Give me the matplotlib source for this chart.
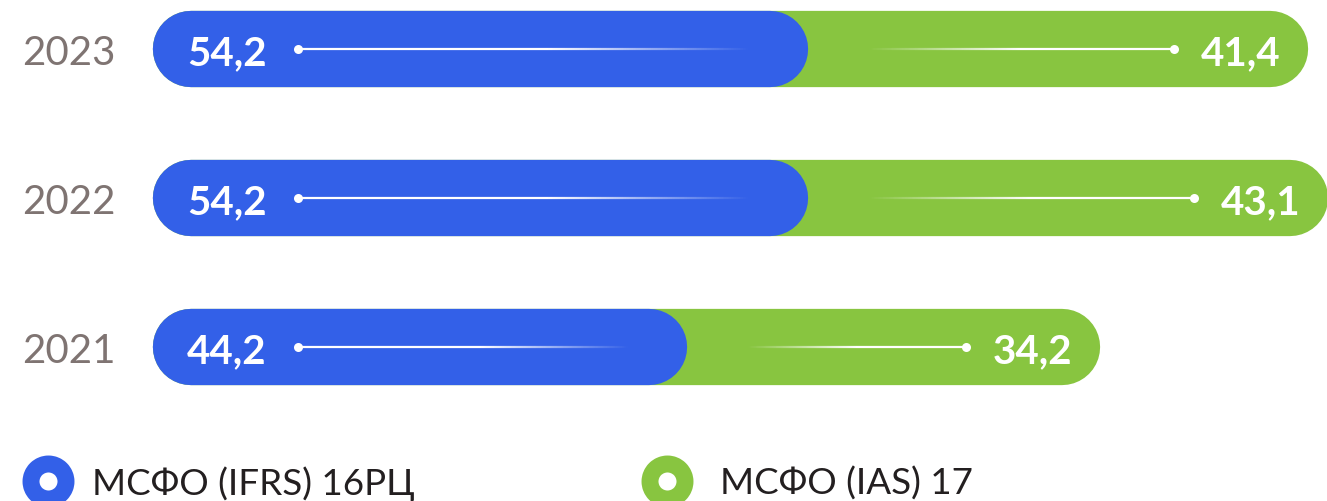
import numpy as np
import matplotlib
matplotlib.use('Agg')
import matplotlib.pyplot as plt
from matplotlib.collections import LineCollection

years = ['2021', '2022', '2023']
ifrs16 = [44.2, 54.2, 54.2]
ias17 = [34.2, 43.1, 41.4]
series_names = ['МСФО (IFRS) 16РЦ', 'МСФО (IAS) 17']

blue = '#3360E8'
green = '#88C540'
plt.rcParams['font.family'] = ['Lato', 'DejaVu Sans']

W, H, DPI = 1327, 502, 100
fig = plt.figure(figsize=(W / DPI, H / DPI), dpi=DPI)
ax = fig.add_axes([0, 0, 1, 1])
xlim = (-12.67, 97.19)
ylim = (-1.034, 2.336)
ax.set_xlim(xlim)
ax.set_ylim(ylim)
ax.axis('off')

# pixel scale of the data units
px_x = W / (xlim[1] - xlim[0])
px_y = H / (ylim[1] - ylim[0])
bar_h = 0.512
lw_pt = bar_h * px_y * 72.0 / DPI
r = bar_h * px_y / 2.0 / px_x   # cap radius in x units


def fade_line(ax, xa, xb, y, a0, a1, n=120):
  xs = np.linspace(xa, xb, n + 1)
  segs = [[(xs[i], y), (xs[i + 1], y)] for i in range(n)]
  t = np.linspace(0, 1, n)
  alpha = np.interp(t, [0, 1], [a0, a1])
  cols = [(1, 1, 1, a) for a in alpha]
  ax.add_collection(LineCollection(segs, colors=cols, linewidths=1.6, zorder=4))


for i, yr in enumerate(years):
  b = ifrs16[i]
  g = ias17[i]
  total = b + g
  ax.plot([r, total - r], [i, i], lw=lw_pt, color=green, solid_capstyle='round', zorder=1)
  ax.plot([r, b - r], [i, i], lw=lw_pt, color=blue, solid_capstyle='round', zorder=2)

  # blue side line, solid then fading out
  dot1 = 12.0
  end1 = b - 4.8
  mid1 = dot1 + 0.55 * (end1 - dot1)
  fade_line(ax, dot1, mid1, i, 1, 1, n=10)
  fade_line(ax, mid1, end1, i, 1, 0)
  ax.plot(dot1, i, 'o', color='white', ms=6.5, mec='none', zorder=5)

  # green side line, fading in
  dot2 = total - 11.1
  st2 = b + 5.0
  mid2 = st2 + 0.5 * (dot2 - st2)
  fade_line(ax, st2, mid2, i, 0, 1)
  fade_line(ax, mid2, dot2, i, 1, 1, n=10)
  ax.plot(dot2, i, 'o', color='white', ms=6.5, mec='none', zorder=5)

  ax.text(2.8, i, ('%.1f' % b).replace('.', ','), color='white', fontsize=29,
          fontweight='bold', ha='left', va='center_baseline', zorder=6)
  ax.text(total - 2.3, i, ('%.1f' % g).replace('.', ','), color='white', fontsize=29,
          fontweight='bold', ha='right', va='center_baseline', zorder=6)
  ax.text(-10.84, i, yr, color='#7f7472', fontsize=29, ha='left',
          va='center_baseline')

# legend
for xc, xt, col, name in [(47.5, 92, blue, series_names[0]), (667, 720, green, series_names[1])]:
  ax.plot(xc / W, 1 - 482.0 / H, 'o', transform=ax.transAxes, ms=25.2,
          mfc='white', mec=col, mew=12.2, clip_on=False)
  ax.text(xt / W, 1 - 495.0 / H, name, transform=ax.transAxes, fontsize=26.5,
          color='#231f20', ha='left', va='baseline')

fig.savefig('out.png', dpi=DPI)
